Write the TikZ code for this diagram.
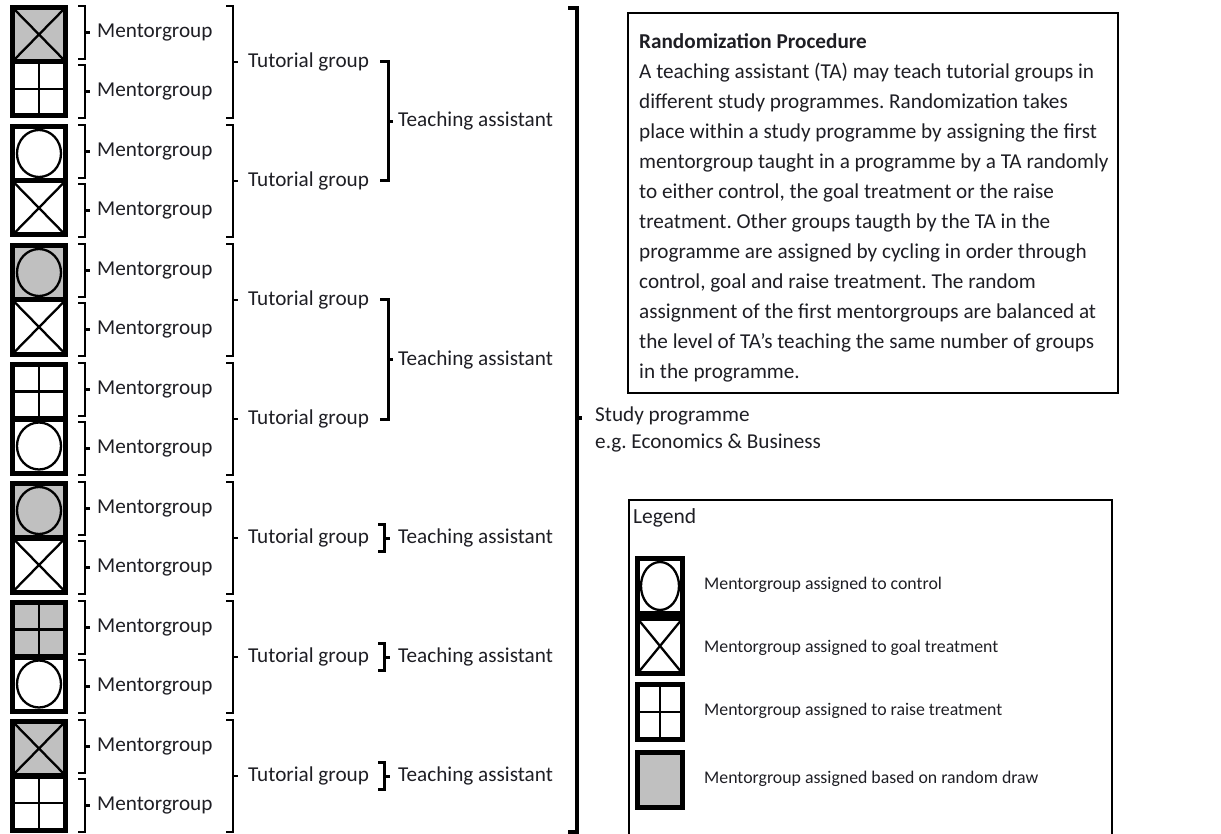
\documentclass[tikz,border=0pt]{standalone}
\usepackage{fontspec}
\setmainfont{Carlito}
\definecolor{rnd}{RGB}{192,192,192}
\definecolor{txt}{RGB}{30,30,36}
\frenchspacing
\begin{document}
\begin{tikzpicture}[x=1pt,y=-1pt,
  mg/.style={draw=black, line width=5pt, minimum width=53pt, minimum height=54pt, inner sep=0pt, outer sep=0pt},
  lg/.style={mg, minimum width=45pt, minimum height=55pt},
  pat/.style={line width=2.3pt},
  xpat/.style={path picture={\draw[pat] (path picture bounding box.north west) -- (path picture bounding box.south east) (path picture bounding box.north east) -- (path picture bounding box.south west);}},
  ppat/.style={path picture={\draw[pat] (path picture bounding box.north) -- (path picture bounding box.south) (path picture bounding box.west) -- (path picture bounding box.east);}},
  cpat/.style 2 args={path picture={\draw[pat] (path picture bounding box.center) ellipse [x radius=#1, y radius=#2];}},
  br/.style={line width=2.6pt, line join=miter},
  brb/.style={line width=3pt, line join=miter},
  brc/.style={line width=3.2pt, line join=miter},
  lbl/.style={font=\fontsize{21.2}{25}\selectfont, text=txt, inner sep=0pt, anchor=base west},
  lgt/.style={font=\fontsize{17.8}{20}\selectfont, text=txt, inner sep=0pt, anchor=base west}
]
\useasboundingbox (0,0) rectangle (1221,834);

% ---- mentorgroup squares ----
\node[mg, xpat, fill=rnd] (b1) at (39,34.5) {};
\node[mg, ppat, fill=white] (b2) at (39,89) {};
\node[mg, cpat={22pt}{23.5pt}, fill=white] (b3) at (39,153.5) {};
\node[mg, xpat, fill=white] (b4) at (39,208) {};
\node[mg, cpat={22pt}{23.5pt}, fill=rnd] (b5) at (39,272.5) {};
\node[mg, xpat, fill=white] (b6) at (39,327) {};
\node[mg, ppat, fill=white] (b7) at (39,391.5) {};
\node[mg, cpat={22pt}{23.5pt}, fill=white] (b8) at (39,446) {};
\node[mg, cpat={22pt}{23.5pt}, fill=rnd] (b9) at (39,510.5) {};
\node[mg, xpat, fill=white] (b10) at (39,565) {};
\node[mg, ppat, fill=rnd] (b11) at (39,629.5) {};
\node[mg, cpat={22pt}{23.5pt}, fill=white] (b12) at (39,684) {};
\node[mg, xpat, fill=rnd] (b13) at (39,748.5) {};
\node[mg, ppat, fill=white] (b14) at (39,803) {};

% ---- mentorgroup and tutorial group brackets ----
\foreach \p in {0,...,6} {
  \pgfmathsetmacro\T{5+119*\p}
  \draw[br] (78,\T+1) -- (85,\T+1) -- (85,\T+54) -- (78,\T+54) (85,\T+27.5) -- (90,\T+27.5);
  \draw[br] (78,\T+60) -- (85,\T+60) -- (85,\T+113) -- (78,\T+113) (85,\T+86.5) -- (90,\T+86.5);
  \node[lbl] (mu\p) at (97,\T+32.8) {Mentorgroup};
  \node[lbl] (ml\p) at (97,\T+91.8) {Mentorgroup};
  \draw[br] (226,\T+1) -- (233,\T+1) -- (233,\T+113) -- (226,\T+113) (233,\T+57) -- (238,\T+57);
  \node[lbl] (tg\p) at (248,\T+62.5) {Tutorial group};
}

% ---- teaching assistants ----
\draw[brb] (380,62) -- (388,62) -- (388,181) -- (380,181) (388,121.5) -- (393,121.5);
\node[lbl] (ta1) at (398,127) {Teaching assistant};
\draw[brb] (380,300) -- (388,300) -- (388,419) -- (380,419) (388,359.5) -- (393,359.5);
\node[lbl] (ta2) at (398,365) {Teaching assistant};
\foreach \y/\k in {538/3,657/4,776/5} {
  \draw[brb] (378,\y-13.5) -- (384,\y-13.5) -- (384,\y+13.5) -- (378,\y+13.5) (384,\y) -- (390,\y);
  \node[lbl] (ta\k) at (398,\y+5.5) {Teaching assistant};
}

% ---- study programme ----
\draw[brc] (568,8) -- (577,8) -- (577,832) -- (568,832) (577,418) -- (582,418);
\node[lbl] (sp1) at (595,421.7) {Study programme};
\node[lbl] (sp2) at (595,448) {e.g. Economics \& Business};

% ---- randomization procedure ----
\draw[line width=1.4pt] (628,13) rectangle (1118,393);
\begin{scope}
\clip (630,15) rectangle (1116,381);
\node[font=\fontsize{21.2}{30}\selectfont, text=txt, inner sep=0pt, anchor=north west, align=left] (rp) at (639,33.5) {%
\textbf{Randomization Procedure}\\
A teaching assistant (TA) may teach tutorial groups in\\
different study programmes. Randomization takes\\
place within a study programme by assigning the first\\
mentorgroup taught in a programme by a TA randomly\\
to either control, the goal treatment or the raise\\
treatment. Other groups taugth by the TA in the\\
programme are assigned by cycling in order through\\
control, goal and raise treatment. The random\\
assignment of the first mentorgroups are balanced at\\
the level of TA's teaching the same number of groups\\
in the programme.};
\end{scope}

% ---- legend ----
\draw[line width=1.2pt] (629,834) -- (629,500) -- (1112,500) -- (1112,834);
\node[font=\fontsize{21.5}{25}\selectfont, text=txt, inner sep=0pt, anchor=base west] (lt) at (633,523) {Legend};
\node[lg, cpat={19pt}{24pt}, fill=white] (l1) at (660,586) {};
\node[lg, xpat, fill=white] (l2) at (660,646) {};
\node[lg, ppat, fill=white] (l3) at (660,712) {};
\node[lg, fill=rnd] (l4) at (660,780) {};
\node[lgt] (lt1) at (704,589) {Mentorgroup assigned to control};
\node[lgt] (lt2) at (704,652) {Mentorgroup assigned to goal treatment};
\node[lgt] (lt3) at (704,715) {Mentorgroup assigned to raise treatment};
\node[lgt] (lt4) at (704,783) {Mentorgroup assigned based on random draw};
\end{tikzpicture}
\end{document}
